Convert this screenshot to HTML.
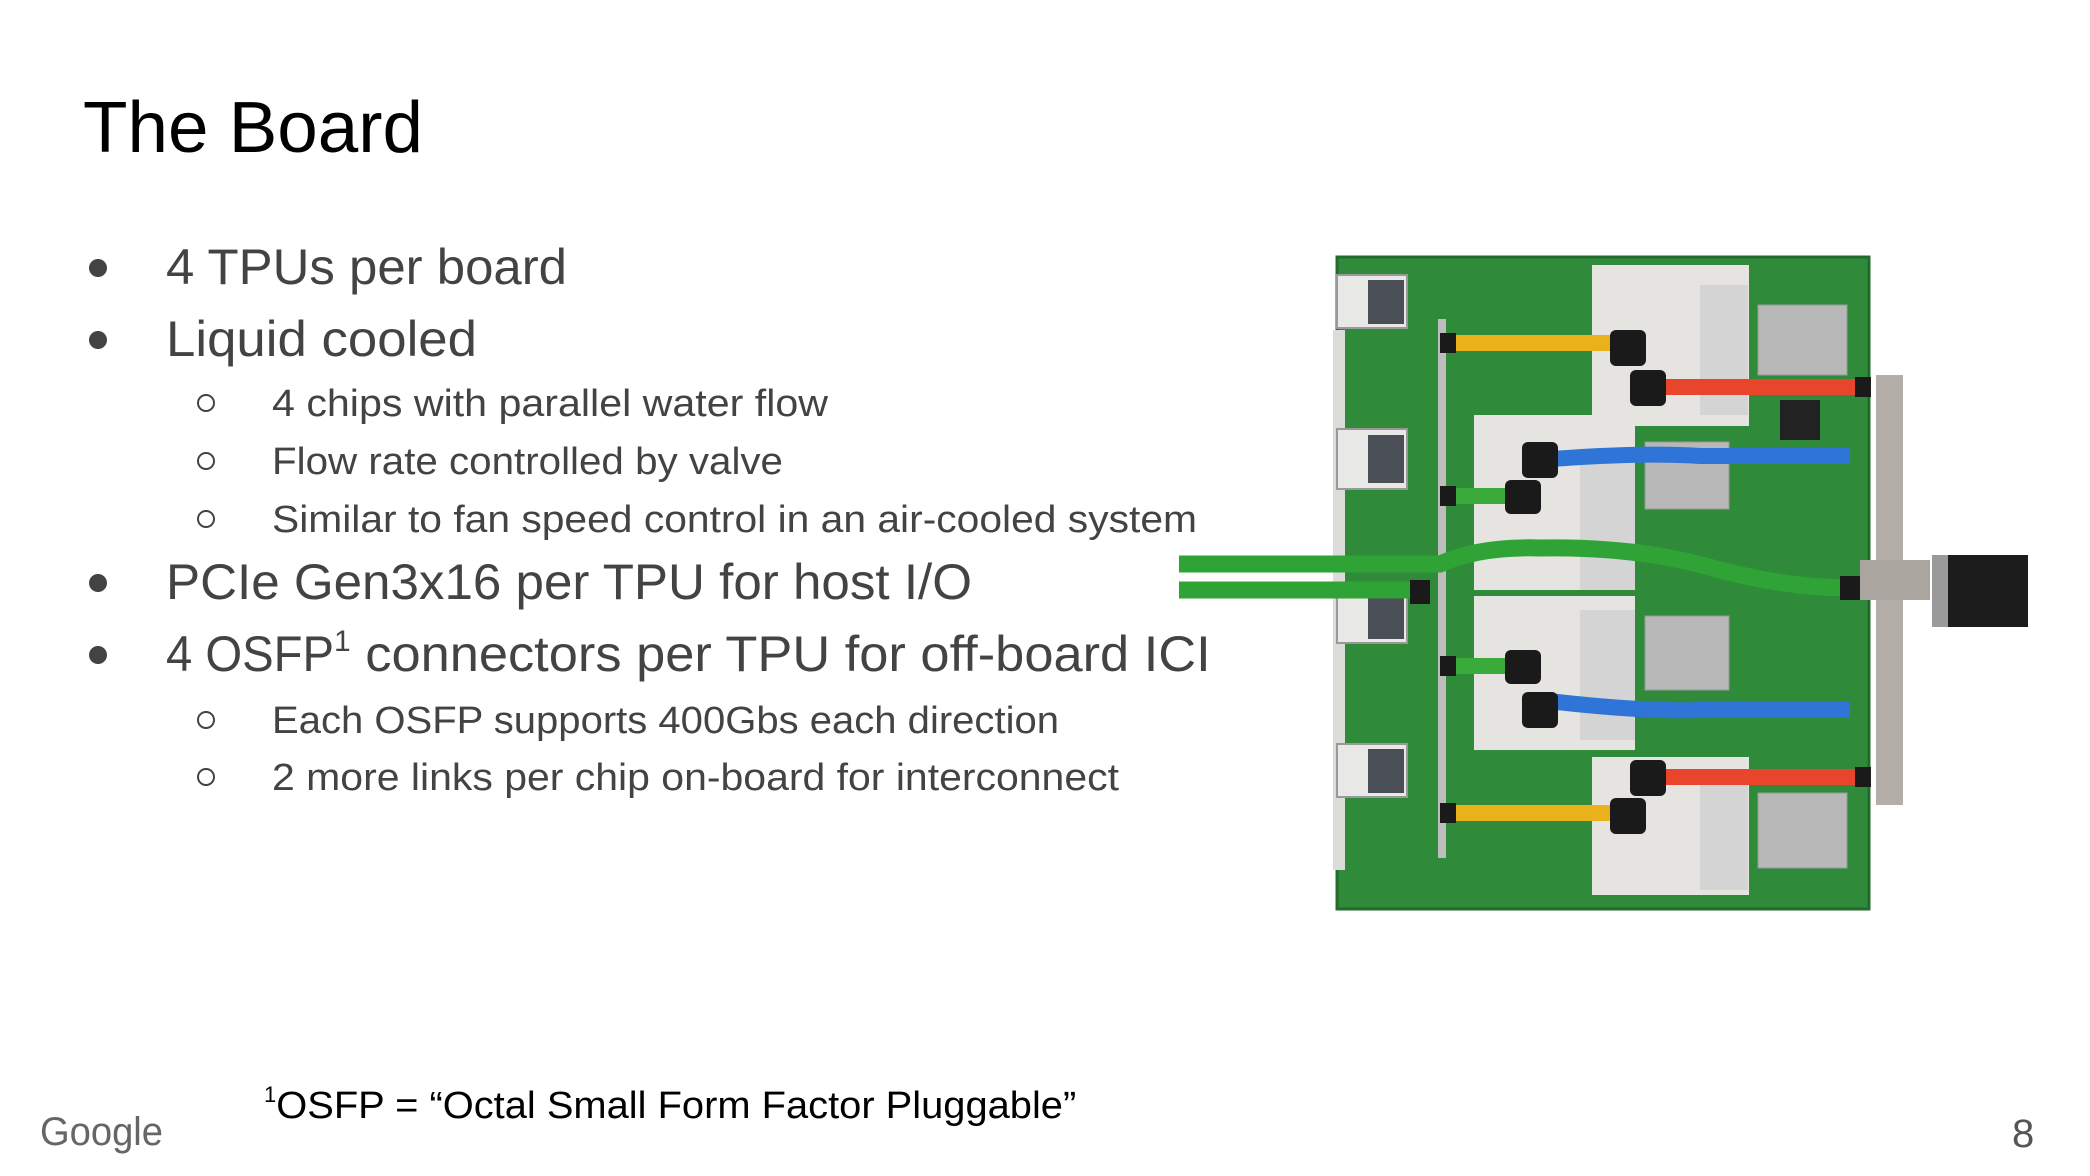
<!DOCTYPE html>
<html><head><meta charset="utf-8"><style>
html,body{margin:0;padding:0;background:#fff;}
svg{display:block;}
</style></head><body>
<svg width="2090" height="1176" viewBox="0 0 2090 1176" xmlns="http://www.w3.org/2000/svg" font-family="Liberation Sans, Arial, sans-serif">
<rect width="2090" height="1176" fill="#fff"/>
<text x="83" y="152" font-size="72" fill="#000" textLength="340" lengthAdjust="spacingAndGlyphs">The Board</text>
<g fill="#434343">
<circle cx="98" cy="268" r="9"/><circle cx="98" cy="340" r="9"/><circle cx="98" cy="583" r="9"/><circle cx="98" cy="655" r="9"/>
<text x="166" y="284" font-size="50" textLength="401" lengthAdjust="spacingAndGlyphs">4 TPUs per board</text>
<text x="166" y="356" font-size="50" textLength="311" lengthAdjust="spacingAndGlyphs">Liquid cooled</text>
<text x="166" y="599" font-size="50" textLength="806" lengthAdjust="spacingAndGlyphs">PCIe Gen3x16 per TPU for host I/O</text>
<text x="166" y="671" font-size="50"><tspan textLength="168" lengthAdjust="spacingAndGlyphs">4 OSFP</tspan><tspan font-size="30" dy="-20">1</tspan><tspan dy="20" textLength="860" lengthAdjust="spacingAndGlyphs"> connectors per TPU for off-board ICI</tspan></text>
<text x="272" y="416" font-size="38" textLength="556" lengthAdjust="spacingAndGlyphs">4 chips with parallel water flow</text>
<text x="272" y="474" font-size="38" textLength="511" lengthAdjust="spacingAndGlyphs">Flow rate controlled by valve</text>
<text x="272" y="532" font-size="38" textLength="925" lengthAdjust="spacingAndGlyphs">Similar to fan speed control in an air-cooled system</text>
<text x="272" y="733" font-size="38" textLength="787" lengthAdjust="spacingAndGlyphs">Each OSFP supports 400Gbs each direction</text>
<text x="272" y="790" font-size="38" textLength="847" lengthAdjust="spacingAndGlyphs">2 more links per chip on-board for interconnect</text>
</g>
<g fill="none" stroke="#434343" stroke-width="2">
<circle cx="206" cy="403" r="8"/><circle cx="206" cy="461" r="8"/><circle cx="206" cy="519" r="8"/><circle cx="206" cy="720" r="8"/><circle cx="206" cy="777" r="8"/>
</g>
<text x="264" y="1118" font-size="38" fill="#000"><tspan font-size="22" dy="-16">1</tspan><tspan dy="16" textLength="800" lengthAdjust="spacingAndGlyphs">OSFP = “Octal Small Form Factor Pluggable”</tspan></text>
<text x="40" y="1145" font-size="40" fill="#666" textLength="123" lengthAdjust="spacingAndGlyphs">Google</text>
<text x="2012" y="1147" font-size="40" fill="#555">8</text>

<!-- board -->
<rect x="1337" y="257" width="532" height="652" fill="#2f8a3a"/>
<rect x="1337" y="257" width="532" height="652" fill="none" stroke="#236b2c" stroke-width="3"/>
<rect x="1333" y="330" width="12" height="540" fill="#dcdcd8"/>
<g fill="#e8e8e6" stroke="#999" stroke-width="2">
<rect x="1337" y="275" width="70" height="53"/><rect x="1337" y="429" width="70" height="60"/><rect x="1337" y="590" width="70" height="53"/><rect x="1337" y="744" width="70" height="53"/>
</g>
<g fill="#4a4f57"><rect x="1368" y="280" width="36" height="44"/><rect x="1368" y="435" width="36" height="48"/><rect x="1368" y="595" width="36" height="44"/><rect x="1368" y="749" width="36" height="44"/></g>
<rect x="1438" y="319" width="8" height="539" fill="#bdbdbd"/>
<g fill="#e6e4e0">
<rect x="1592" y="265" width="157" height="161"/><rect x="1474" y="415" width="161" height="175"/>
<rect x="1474" y="596" width="161" height="154"/><rect x="1592" y="757" width="157" height="138"/>
</g>
<g fill="#d4d4d4">
<rect x="1700" y="285" width="48" height="130"/><rect x="1580" y="460" width="55" height="130"/>
<rect x="1580" y="610" width="55" height="130"/><rect x="1700" y="770" width="48" height="120"/>
</g>
<g fill="#b8b8b8" stroke="#999"><rect x="1758" y="305" width="89" height="70"/><rect x="1645" y="442" width="84" height="67"/><rect x="1645" y="616" width="84" height="74"/><rect x="1758" y="793" width="89" height="75"/></g>
<rect x="1780" y="400" width="40" height="40" fill="#222"/>
<rect x="1876" y="375" width="27" height="430" fill="#b3aea8"/>
<rect x="1860" y="560" width="70" height="40" fill="#aaa59f"/>
<rect x="1932" y="555" width="96" height="72" fill="#1c1c1c"/>
<rect x="1932" y="555" width="16" height="72" fill="#9a9a9a"/>
<g fill="none" stroke-linecap="butt" stroke-width="16">
<path d="M1450 343 H1628" stroke="#e9b21a"/>
<path d="M1648 387 H1863" stroke="#e8452c"/>
<path d="M1540 460 Q1640 452 1700 456 H1850" stroke="#2f75d8"/>
<path d="M1450 496 H1520" stroke="#3aaa3a"/>
<path d="M1450 666 H1520" stroke="#3aaa3a"/>
<path d="M1540 700 Q1640 712 1700 710 H1850" stroke="#2f75d8"/>
<path d="M1648 777 H1863" stroke="#e8452c"/>
<path d="M1450 813 H1628" stroke="#e9b21a"/>
</g>
<g fill="none" stroke="#2fa336" stroke-width="17">
<path d="M1179 564 H1440 Q1480 546 1540 548 Q1640 546 1720 570 Q1790 588 1850 588"/>
<path d="M1179 590 H1420"/>
</g>
<g fill="#1a1a1a">
<rect x="1440" y="333" width="16" height="20"/><rect x="1610" y="330" width="36" height="36" rx="6"/><rect x="1630" y="370" width="36" height="36" rx="6"/><rect x="1855" y="377" width="16" height="20"/>
<rect x="1522" y="442" width="36" height="36" rx="6"/><rect x="1505" y="480" width="36" height="34" rx="6"/><rect x="1440" y="486" width="16" height="20"/>
<rect x="1840" y="576" width="20" height="24"/><rect x="1410" y="580" width="20" height="24"/>
<rect x="1505" y="650" width="36" height="34" rx="6"/><rect x="1440" y="656" width="16" height="20"/><rect x="1522" y="692" width="36" height="36" rx="6"/>
<rect x="1630" y="760" width="36" height="36" rx="6"/><rect x="1855" y="767" width="16" height="20"/><rect x="1610" y="798" width="36" height="36" rx="6"/><rect x="1440" y="803" width="16" height="20"/>
</g>
</svg>
</body></html>
